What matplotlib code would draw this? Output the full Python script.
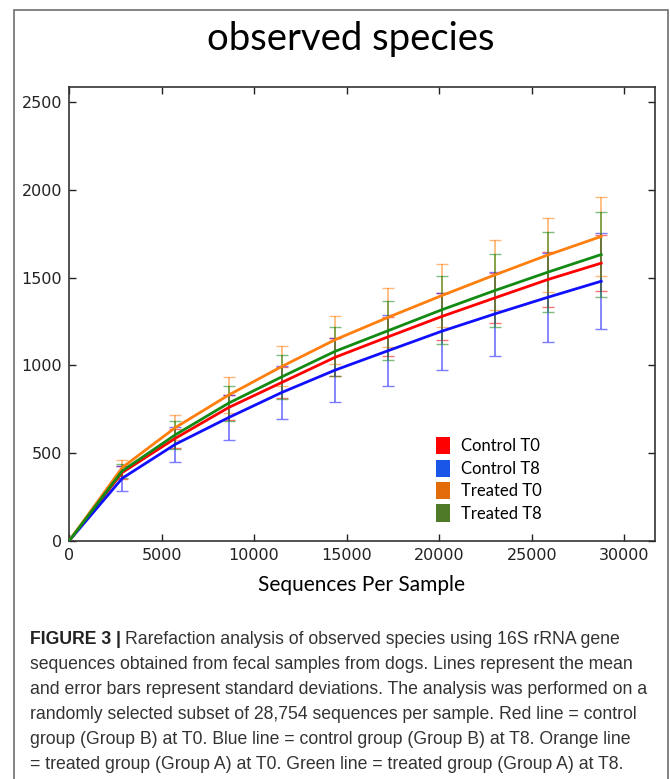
import matplotlib
matplotlib.use("Agg")
import matplotlib.pyplot as plt
from matplotlib.patches import Patch, Rectangle

# --- Data (mean and SD of observed species) ---
depths = [0, 2875, 5750, 8626, 11502, 14377, 17252, 20128, 23003, 25879, 28754]

control_t0 = [0, 390, 585, 760, 903, 1046, 1163, 1278, 1384, 1489, 1582]
control_t0_sd = [0, 35, 53, 70, 88, 109, 112, 134, 144, 158, 160]

control_t8 = [0, 357, 551, 703, 846, 973, 1084, 1194, 1293, 1388, 1479]
control_t8_sd = [0, 72, 100, 129, 152, 184, 200, 219, 238, 253, 272]

treated_t0 = [0, 418, 646, 831, 994, 1146, 1274, 1397, 1515, 1629, 1734]
treated_t0_sd = [0, 44, 71, 101, 114, 137, 167, 181, 200, 211, 224]

treated_t8 = [0, 399, 605, 785, 935, 1080, 1198, 1316, 1426, 1531, 1631]
treated_t8_sd = [0, 40, 79, 99, 126, 141, 167, 192, 209, 228, 242]

labels = ["Control T0", "Control T8", "Treated T0", "Treated T8"]
line_colors = ["#ff0000", "#1010ff", "#ff7f0e", "#138a13"]
legend_colors = ["#ff0000", "#1a56e8", "#e36c0a", "#4f7a28"]

caption_lines = [
    "Rarefaction analysis of observed species using 16S rRNA gene",
    "sequences obtained from fecal samples from dogs. Lines represent the mean",
    "and error bars represent standard deviations. The analysis was performed on a",
    "randomly selected subset of 28,754 sequences per sample. Red line = control",
    "group (Group B) at T0. Blue line = control group (Group B) at T8. Orange line",
    "= treated group (Group A) at T0. Green line = treated group (Group A) at T8.",
]

W, H = 670, 779
fig = plt.figure(figsize=(W / 100, H / 100), dpi=100)

# outer frame around figure + caption
fig.patches.append(Rectangle((14 / W, -0.02), (668 - 14) / W, 0.02 + (H - 10) / H,
                             transform=fig.transFigure, fill=False,
                             edgecolor="#6e6e6e", linewidth=1.2))

ax = fig.add_axes([69 / W, (H - 541) / H, (655 - 69) / W, (541 - 87) / H])

series = [
    (control_t0, control_t0_sd),
    (control_t8, control_t8_sd),
    (treated_t0, treated_t0_sd),
    (treated_t8, treated_t8_sd),
]
for (vals, sd), col in zip(series, line_colors):
    ax.plot(depths, vals, color=col, linewidth=2.0, zorder=3)
    ax.errorbar(depths[1:], vals[1:], yerr=sd[1:], fmt="none", ecolor=col,
                elinewidth=1.3, capsize=4, capthick=1.0, alpha=0.55, zorder=2)

ax.set_xlim(0, 31660)
ax.set_ylim(0, 2585)
ax.set_xticks(range(0, 30001, 5000))
ax.set_yticks(range(0, 2501, 500))
ax.tick_params(direction="in", top=True, right=True, length=5, width=1,
               labelsize=11.5, pad=5, colors="#222222")
for s in ax.spines.values():
    s.set_color("#333333")
    s.set_linewidth(1.2)

ax.set_xlabel("Sequences Per Sample", fontfamily="Lato", fontsize=15, labelpad=9)
fig.text(351 / W, (H - 50) / H, "observed species", fontfamily="Lato",
         fontsize=27.5, ha="center", va="baseline")

handles = [Patch(facecolor=c, edgecolor="none") for c in legend_colors]
fig.legend(handles, labels, loc="upper left",
           bbox_to_anchor=(436 / W, (H - 437) / H), frameon=False,
           prop={"family": "Lato", "size": 12}, borderpad=0, borderaxespad=0,
           handlelength=0.85, handleheight=1.2, handletextpad=0.65,
           labelspacing=0.32)

# --- caption ---
cap_x = 30 / W
base0 = 644
step = 25
cap_font = ["Liberation Sans", "DejaVu Sans"]
cap_size = 12.5
fig.canvas.draw()
renderer = fig.canvas.get_renderer()

# fit the longest line to the caption width seen in the reference (30 -> 648 px)
probe = fig.text(0, 0, caption_lines[2], fontfamily=cap_font, fontsize=cap_size)
pw = probe.get_window_extent(renderer).width
probe.remove()
cap_size = cap_size * (648 - 30) / pw

bold = fig.text(cap_x, (H - base0) / H, "FIGURE 3 |", fontfamily=cap_font,
                fontweight="bold", fontsize=cap_size, va="baseline", color="#222222")
bb = bold.get_window_extent(renderer)
fig.text((bb.x1 + 4) / W, (H - base0) / H, caption_lines[0], fontfamily=cap_font,
         fontsize=cap_size, va="baseline", color="#333333")
for i, line in enumerate(caption_lines[1:], start=1):
    fig.text(cap_x, (H - base0 - i * step) / H, line, fontfamily=cap_font,
             fontsize=cap_size, va="baseline", color="#333333")

fig.savefig("out.png", dpi=100)
